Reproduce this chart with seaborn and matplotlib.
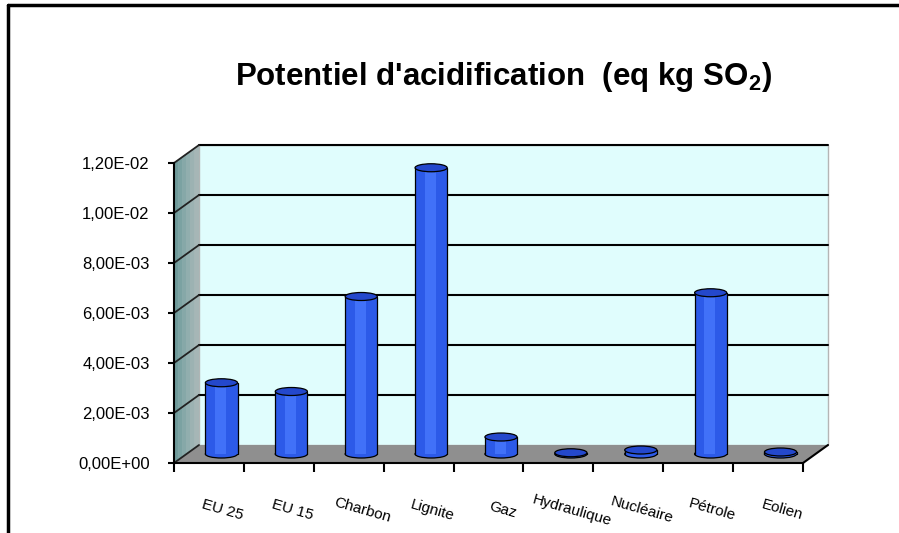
import matplotlib
matplotlib.use("Agg")
import matplotlib.pyplot as plt
from matplotlib.patches import Polygon, Ellipse, Rectangle
from matplotlib.lines import Line2D
from matplotlib.transforms import ScaledTranslation
import pandas as pd
import seaborn as sns

# data
categories = ["EU 25", "EU 15", "Charbon", "Lignite", "Gaz",
              "Hydraulique", "Nucléaire", "Pétrole", "Eolien"]
values = [2.85e-3, 2.5e-3, 6.3e-3, 1.145e-2, 6.8e-4,
          5e-5, 1.6e-4, 6.45e-3, 8e-5]
y_ticks = [0, 0.002, 0.004, 0.006, 0.008, 0.010, 0.012]
y_labels = ["0,00E+00", "2,00E-03", "4,00E-03", "6,00E-03",
            "8,00E-03", "1,00E-02", "1,20E-02"]

df = pd.DataFrame({"cat": categories, "val": values})

sns.set_theme(style="white")
plt.rcParams['font.family'] = ['Liberation Sans', 'DejaVu Sans']
plt.rcParams['mathtext.fontset'] = 'custom'
plt.rcParams['mathtext.rm'] = 'Liberation Sans'
plt.rcParams['mathtext.bf'] = 'Liberation Sans:bold'

W, H = 899, 533
fig = plt.figure(figsize=(W / 100, H / 100), dpi=100)
ax = fig.add_axes([174 / W, (H - 463) / H, 629 / W, 300 / H])
ax.set_facecolor("none")

ymax = 0.012
n = len(categories)
# 3D depth (pixels) turned into data units
depth_px = (25, 18)
ddx = depth_px[0] * n / 629
ddy = depth_px[1] * ymax / 300
mid = ScaledTranslation(depth_px[0] / 200, depth_px[1] / 200, fig.dpi_scale_trans)

bar_color = "#2c5ae8"
sns.barplot(data=df, x="cat", y="val", color=bar_color, width=0.46,
            saturation=1, linewidth=0, ax=ax, zorder=3)
bars = list(ax.patches)

ax.set_xlim(-0.5, n - 0.5)
ax.set_ylim(0, ymax)

# back wall, side wall (shaded in strips), floor
x0, x1 = -0.5, n - 0.5
ax.add_patch(Polygon([(x0 + ddx, ddy), (x1 + ddx, ddy), (x1 + ddx, ymax + ddy), (x0 + ddx, ymax + ddy)],
                     facecolor="#e0fdfd", edgecolor="#b5b5b5", lw=1, zorder=0, clip_on=False))
side_cols = ["#6f9a9a", "#7ba2a2", "#86a8a8", "#91aeae", "#9cb2b2", "#a6b6b6"]
k = len(side_cols)
for j, c in enumerate(side_cols):
    a, b = j / k, (j + 1) / k
    ax.add_patch(Polygon([(x0 + a * ddx, a * ddy), (x0 + b * ddx, b * ddy),
                          (x0 + b * ddx, ymax + b * ddy), (x0 + a * ddx, ymax + a * ddy)],
                         facecolor=c, edgecolor=c, lw=0.5, zorder=0.5, clip_on=False))
ax.add_patch(Polygon([(x0, 0), (x1, 0), (x1 + ddx, ddy), (x0 + ddx, ddy)],
                     facecolor="#8f8f8f", edgecolor="none", zorder=0.6, clip_on=False))
ax.plot([x1, x1 + ddx], [0, ddy], color="black", lw=1.5, zorder=1, clip_on=False)

for v in y_ticks:
    if v > 0:
        ax.plot([x0 + ddx, x1 + ddx], [v + ddy, v + ddy], color="black", lw=1.5, zorder=1, clip_on=False)
    ax.plot([x0, x0 + ddx], [v, v + ddy], color="#222222", lw=1.3, zorder=1, clip_on=False)

# cylinders
eh = 8 * ymax / 300
for p in bars:
    p.set_transform(ax.transData + mid)
    bx, bw, bh = p.get_x(), p.get_width(), p.get_height()
    cx = bx + bw / 2
    ax.add_patch(Ellipse((cx, 0), bw, eh, facecolor=bar_color, edgecolor="black", lw=0.9,
                         transform=ax.transData + mid, zorder=2.9, clip_on=False))
    # highlight in the middle of the cylinder
    ax.add_patch(Rectangle((bx + bw * 0.3, 0), bw * 0.35, bh, facecolor="#4a7bff", edgecolor="none",
                           alpha=0.7, transform=ax.transData + mid, zorder=3.05, clip_on=False))
    for sx in (bx, bx + bw):
        ax.plot([sx, sx], [0, bh], color="black", lw=0.9, zorder=3.1,
                transform=ax.transData + mid, clip_on=False)
    ax.add_patch(Ellipse((cx, bh), bw, eh, facecolor="#2448cc", edgecolor="black", lw=0.9,
                         transform=ax.transData + mid, zorder=3.2, clip_on=False))

# axes and ticks
for s in ["top", "right"]:
    ax.spines[s].set_visible(False)
for s in ["left", "bottom"]:
    ax.spines[s].set_color("black")
    ax.spines[s].set_linewidth(1.5)
    ax.spines[s].set_zorder(4)

ax.set_yticks(y_ticks)
ax.set_yticklabels(y_labels, fontsize=12, color="black")
ax.tick_params(axis="y", direction="out", length=4.5, width=1.5, color="black", pad=13, left=True)

ax.set_xticks(range(n))
ax.set_xticklabels(categories, fontsize=11, color="black", rotation=-16,
                   ha="center", va="center", rotation_mode="anchor")
ax.tick_params(axis="x", which="major", length=0, pad=34)
ax.set_xticks([i - 0.5 for i in range(n + 1)], minor=True)
ax.tick_params(axis="x", which="minor", direction="out", length=6.5, width=1.5, color="black", bottom=True)
for lab in ax.get_xticklabels():
    lab.set_transform(lab.get_transform() + ScaledTranslation(0.14, 0, fig.dpi_scale_trans))
ax.set_xlabel("")
ax.set_ylabel("")

fig.text(503 / W, 1 - 85 / H, r"Potentiel d'acidification  (eq kg SO$_\mathbf{2}$)",
         ha="center", va="baseline", fontsize=22.5, fontweight="bold", color="black")

# chart frame
fig.add_artist(Line2D([8 / W, 8 / W], [0, 1 - 5 / H], transform=fig.transFigure, color="black", lw=2.5))
fig.add_artist(Line2D([8 / W, 1], [1 - 5 / H, 1 - 5 / H], transform=fig.transFigure, color="black", lw=2.5))

fig.savefig("out.png", dpi=100)
